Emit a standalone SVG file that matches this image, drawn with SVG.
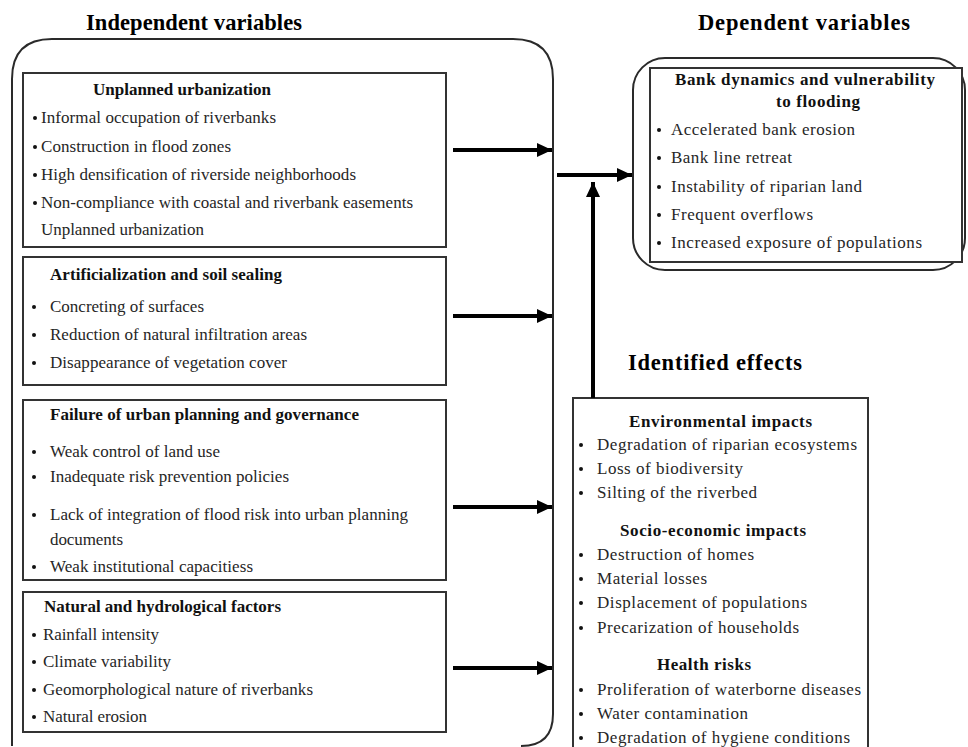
<svg xmlns="http://www.w3.org/2000/svg" width="968" height="747" viewBox="0 0 968 747">
<defs>
<marker id="ah" markerUnits="userSpaceOnUse" markerWidth="16" markerHeight="14" refX="15" refY="7" orient="auto">
<path d="M0,0 L15,7 L0,14 z" fill="#000"/>
</marker>
<style>
.frame{fill:none;stroke:#2a2a2a;stroke-width:2}
.box{fill:#fff;stroke:#333;stroke-width:2}
.h1{font-family:"Liberation Serif","Times New Roman",serif;font-weight:bold;font-size:22.5px;fill:#000}
.h2{font-family:"Liberation Serif","Times New Roman",serif;font-weight:bold;font-size:17px;fill:#111}
.t{font-family:"Liberation Serif","Times New Roman",serif;font-size:17px;fill:#262626}
.b{fill:#111}
.arr{stroke:#000;stroke-width:4;fill:none;marker-end:url(#ah)}
</style>
</defs>
<rect width="968" height="747" fill="#fff"/>

<text class="h1" x="86" y="30" textLength="216">Independent variables</text>
<text class="h1" x="698" y="30" textLength="212">Dependent variables</text>
<text class="h1" x="628" y="370" textLength="174">Identified effects</text>

<g id="independent-frame">
<path class="frame" d="M12,746 L12,79 Q12,39 52,39 L513,39 Q553,39 553,79 L553,714 Q553,746 521,746"/>
</g>

<g id="unplanned-urbanization">
<rect class="box" x="23" y="73" width="423" height="174"/>
<text class="h2" x="93" y="95" textLength="178">Unplanned urbanization</text>
<circle class="b" cx="35" cy="118" r="2"/>
<text class="t" x="41" y="123" textLength="235">Informal occupation of riverbanks</text>
<circle class="b" cx="35" cy="147" r="2"/>
<text class="t" x="41" y="152" textLength="190">Construction in flood zones</text>
<circle class="b" cx="35" cy="175" r="2"/>
<text class="t" x="41" y="180" textLength="315">High densification of riverside neighborhoods</text>
<circle class="b" cx="35" cy="203" r="2"/>
<text class="t" x="41" y="208" textLength="372">Non-compliance with coastal and riverbank easements</text>
<text class="t" x="41" y="235" textLength="163">Unplanned urbanization</text>
</g>

<g id="artificialization">
<rect class="box" x="23" y="257" width="423" height="128"/>
<text class="h2" x="50" y="280" textLength="232">Artificialization and soil sealing</text>
<circle class="b" cx="34" cy="307" r="2"/>
<text class="t" x="50" y="312" textLength="154">Concreting of surfaces</text>
<circle class="b" cx="34" cy="335" r="2"/>
<text class="t" x="50" y="340" textLength="257">Reduction of natural infiltration areas</text>
<circle class="b" cx="34" cy="363" r="2"/>
<text class="t" x="50" y="368" textLength="237">Disappearance of vegetation cover</text>
</g>

<g id="failure-planning">
<rect class="box" x="23" y="400" width="423" height="180"/>
<text class="h2" x="50" y="420" textLength="309">Failure of urban planning and governance</text>
<circle class="b" cx="34" cy="452" r="2"/>
<text class="t" x="50" y="457" textLength="170">Weak control of land use</text>
<circle class="b" cx="34" cy="477" r="2"/>
<text class="t" x="50" y="482" textLength="239">Inadequate risk prevention policies</text>
<circle class="b" cx="34" cy="515" r="2"/>
<text class="t" x="50" y="520" textLength="358">Lack of integration of flood risk into urban planning</text>
<text class="t" x="50" y="545" textLength="73">documents</text>
<circle class="b" cx="34" cy="567" r="2"/>
<text class="t" x="50" y="572" textLength="203">Weak institutional capacitiess</text>
</g>

<g id="natural-factors">
<rect class="box" x="23" y="592" width="423" height="140"/>
<text class="h2" x="44" y="612" textLength="237">Natural and hydrological factors</text>
<circle class="b" cx="34" cy="635" r="2"/>
<text class="t" x="43" y="640" textLength="116">Rainfall intensity</text>
<circle class="b" cx="34" cy="662" r="2"/>
<text class="t" x="43" y="667" textLength="128">Climate variability</text>
<circle class="b" cx="34" cy="690" r="2"/>
<text class="t" x="43" y="695" textLength="270">Geomorphological nature of riverbanks</text>
<circle class="b" cx="34" cy="717" r="2"/>
<text class="t" x="43" y="722" textLength="104">Natural erosion</text>
</g>

<g id="dependent-variables">
<rect class="frame" x="633" y="58" width="332" height="212" rx="32" ry="32"/>
<rect class="box" x="650" y="68" width="312" height="194"/>
<text class="h2" x="675" y="85" textLength="260">Bank dynamics and vulnerability</text>
<text class="h2" x="776" y="107" textLength="84">to flooding</text>
<circle class="b" cx="659" cy="130" r="2"/>
<text class="t" x="671" y="135" textLength="184">Accelerated bank erosion</text>
<circle class="b" cx="659" cy="158" r="2"/>
<text class="t" x="671" y="163" textLength="121">Bank line retreat</text>
<circle class="b" cx="659" cy="187" r="2"/>
<text class="t" x="671" y="192" textLength="191">Instability of riparian land</text>
<circle class="b" cx="659" cy="215" r="2"/>
<text class="t" x="671" y="220" textLength="142">Frequent overflows</text>
<circle class="b" cx="659" cy="243" r="2"/>
<text class="t" x="671" y="248" textLength="251">Increased exposure of populations</text>
</g>

<g id="identified-effects">
<rect class="box" x="573" y="398" width="295" height="360"/>
<text class="h2" x="629" y="427" textLength="183">Environmental impacts</text>
<circle class="b" cx="581" cy="445" r="2"/>
<text class="t" x="597" y="450" textLength="260">Degradation of riparian ecosystems</text>
<circle class="b" cx="581" cy="469" r="2"/>
<text class="t" x="597" y="474" textLength="146">Loss of biodiversity</text>
<circle class="b" cx="581" cy="493" r="2"/>
<text class="t" x="597" y="498" textLength="160">Silting of the riverbed</text>
<text class="h2" x="620" y="536" textLength="186">Socio-economic impacts</text>
<circle class="b" cx="581" cy="555" r="2"/>
<text class="t" x="597" y="560" textLength="157">Destruction of homes</text>
<circle class="b" cx="581" cy="579" r="2"/>
<text class="t" x="597" y="584" textLength="110">Material losses</text>
<circle class="b" cx="581" cy="603" r="2"/>
<text class="t" x="597" y="608" textLength="210">Displacement of populations</text>
<circle class="b" cx="581" cy="628" r="2"/>
<text class="t" x="597" y="633" textLength="202">Precarization of households</text>
<text class="h2" x="657" y="670" textLength="94">Health risks</text>
<circle class="b" cx="581" cy="690" r="2"/>
<text class="t" x="597" y="695" textLength="264">Proliferation of waterborne diseases</text>
<circle class="b" cx="581" cy="714" r="2"/>
<text class="t" x="597" y="719" textLength="151">Water contamination</text>
<circle class="b" cx="581" cy="738" r="2"/>
<text class="t" x="597" y="743" textLength="253">Degradation of hygiene conditions</text>
</g>

<g id="connectors">
<line class="arr" x1="453" y1="150" x2="552" y2="150"/>
<line class="arr" x1="453" y1="316" x2="552" y2="316"/>
<line class="arr" x1="453" y1="507" x2="552" y2="507"/>
<line class="arr" x1="453" y1="668" x2="552" y2="668"/>
<line class="arr" x1="557" y1="175" x2="632" y2="175"/>
<line class="arr" x1="593" y1="398" x2="593" y2="182"/>
</g>
</svg>
